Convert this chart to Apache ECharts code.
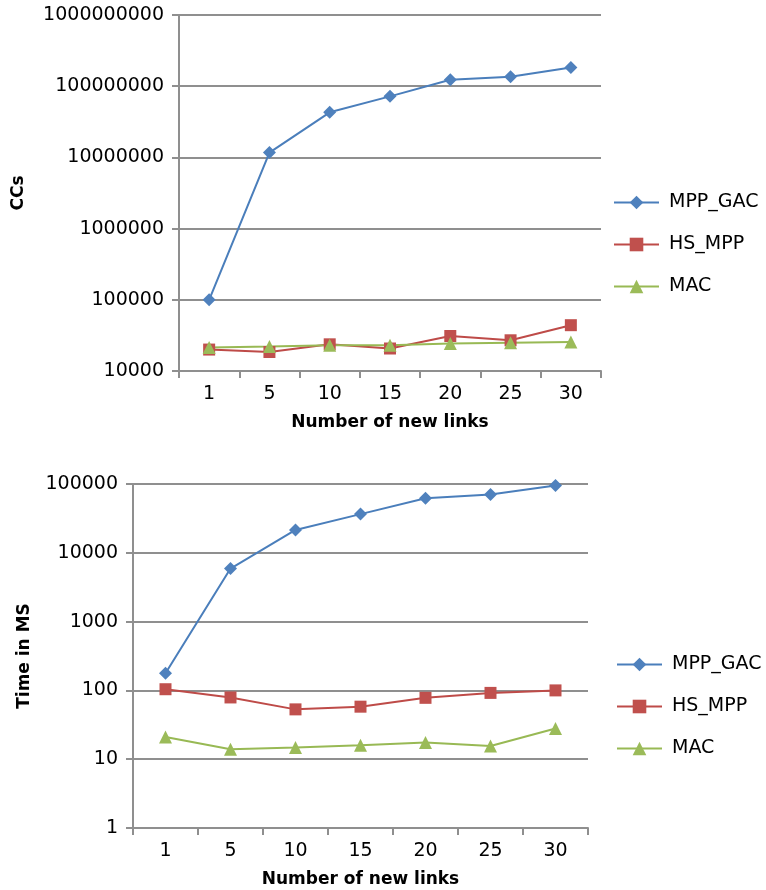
<!DOCTYPE html>
<html>
<head>
<meta charset="utf-8">
<script src="https://cdn.jsdelivr.net/npm/echarts@6/dist/echarts.min.js"></script>
<style>
html,body{margin:0;padding:0;background:#fff;}
#main{width:766px;height:890px;}
</style>
</head>
<body>
<div id="main"></div>
<script>
// ---- data ----
const categories = ['1', '5', '10', '15', '20', '25', '30'];
const seriesNames = ['MPP_GAC', 'HS_MPP', 'MAC'];

// top chart: CCs
const mppGacCCs = [100000, 11700000, 43000000, 72000000, 123000000, 136000000, 183000000];
const hsMppCCs  = [20000, 18500, 23700, 20700, 31000, 27000, 44000];
const macCCs    = [21300, 22000, 23000, 23000, 24300, 25000, 25600];

// bottom chart: Time in MS
const mppGacTime = [177, 5900, 21500, 36500, 62000, 70500, 95000];
const hsMppTime  = [104, 79, 53, 58, 78, 92, 100];
const macTime    = [21, 14, 14.8, 16, 17.5, 15.6, 28];

const topYTitle = 'CCs';
const bottomYTitle = 'Time in MS';
const xTitle = 'Number of new links';

// ---- styles ----
const FONT = 'DejaVu Sans';
const lineColors = ['#4A7EBB', '#BE4B48', '#98B954'];
const markerColors = ['#4F81BD', '#C0504D', '#9BBB59'];
const symbols = ['diamond', 'rect', 'triangle'];
const symbolSizes = [13, 12, 13];
const gridColor = '#8f8f8f';

function xAxis(gridIndex, gap) {
  return {
    type: 'category', gridIndex: gridIndex, data: categories, boundaryGap: true,
    name: xTitle, nameLocation: 'middle', nameGap: gap,
    nameTextStyle: {fontFamily: FONT, fontSize: 17, fontWeight: 'bold', color: '#000'},
    axisLine: {show: true, lineStyle: {color: gridColor, width: 2}},
    axisTick: {show: true, length: 7, inside: false, lineStyle: {color: gridColor, width: 2}},
    axisLabel: {fontFamily: FONT, fontSize: 19, color: '#000', margin: 14},
    splitLine: {show: false}
  };
}
function yAxis(gridIndex, min, max, title, gap) {
  return {
    type: 'log', logBase: 10, gridIndex: gridIndex, min: min, max: max,
    name: title, nameLocation: 'middle', nameGap: gap, nameRotate: 90,
    nameTextStyle: {fontFamily: FONT, fontSize: 17, fontWeight: 'bold', color: '#000'},
    axisLine: {show: true, lineStyle: {color: gridColor, width: 2}},
    axisTick: {show: true, length: 7, lineStyle: {color: gridColor, width: 2}},
    minorTick: {show: false},
    axisLabel: {fontFamily: FONT, fontSize: 19, color: '#000', margin: 15,
      formatter: function (v) { return String(Math.round(v)); }},
    splitLine: {show: true, lineStyle: {color: gridColor, width: 2}}
  };
}
function makeSeries(idx, data, axisIdx) {
  return {
    name: seriesNames[idx], type: 'line', xAxisIndex: axisIdx, yAxisIndex: axisIdx,
    data: data, symbol: symbols[idx], symbolSize: symbolSizes[idx], showAllSymbol: true,
    lineStyle: {color: lineColors[idx], width: 2},
    itemStyle: {color: markerColors[idx]},
    animation: false
  };
}
function legend(left, top) {
  return {
    orient: 'vertical', left: left, top: top, padding: 0,
    itemWidth: 45, itemHeight: 17, itemGap: 23,
    data: seriesNames, selectedMode: false,
    textStyle: {fontFamily: FONT, fontSize: 19, color: '#000', padding: [0, 0, 0, 5]}
  };
}

const chart = echarts.init(document.getElementById('main'), null, {renderer: 'canvas'});
chart.setOption({
  backgroundColor: '#fff',
  animation: false,
  grid: [
    {left: 179, right: 165, top: 15, height: 356},
    {left: 133, right: 178, top: 484, height: 344}
  ],
  legend: [legend(613, 193), legend(616, 655)],
  xAxis: [xAxis(0, 43), xAxis(1, 43)],
  yAxis: [yAxis(0, 10000, 1000000000, topYTitle, 152), yAxis(1, 1, 100000, bottomYTitle, 100)],
  series: [
    makeSeries(0, mppGacCCs, 0),
    makeSeries(1, hsMppCCs, 0),
    makeSeries(2, macCCs, 0),
    makeSeries(0, mppGacTime, 1),
    makeSeries(1, hsMppTime, 1),
    makeSeries(2, macTime, 1)
  ]
});
</script>
</body>
</html>
